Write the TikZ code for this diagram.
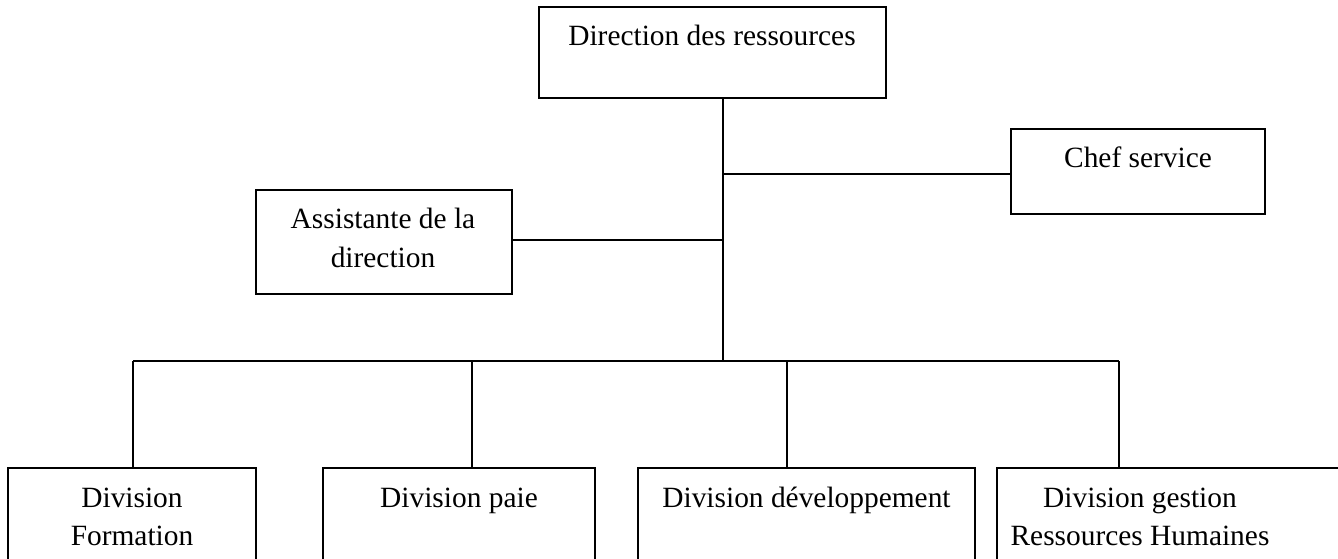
\documentclass[tikz,border=0pt]{standalone}
\usepackage{fontspec}
\setmainfont{Liberation Serif}
\begin{document}
\begin{tikzpicture}[x=1pt,y=-1pt,
  box/.style={draw, line width=1.6pt, rectangle, inner sep=0pt, fill=none},
  lbl/.style={anchor=base, inner sep=0pt, font=\fontsize{29.4}{38}\selectfont},
  conn/.style={line width=1.4pt}]
\clip (0,0) rectangle (1338,559);
\useasboundingbox (0,0) rectangle (1338,559);
% boxes
\node[box, minimum width=347pt, minimum height=91pt] (top) at (712.5,52.5) {};
\node[box, minimum width=254pt, minimum height=85pt] (chef) at (1138,171.5) {};
\node[box, minimum width=256pt, minimum height=104pt] (assist) at (384,242) {};
\node[box, minimum width=248pt, minimum height=112pt] (form) at (132,524) {};
\node[box, minimum width=272pt, minimum height=112pt] (paie) at (459,524) {};
\node[box, minimum width=337pt, minimum height=112pt] (dev) at (806.5,524) {};
\node[box, minimum width=353pt, minimum height=112pt] (grh) at (1173.5,524) {};
% labels
\node[lbl] (ttop) at (712,46) {Direction des ressources};
\node[lbl] (tchef) at (1138,167) {Chef service};
\node[lbl] (tassist1) at (383,228) {Assistante de la};
\node[lbl] (tassist2) at (383,267) {direction};
\node[lbl] (tform1) at (132,507) {Division};
\node[lbl] (tform2) at (132,545) {Formation};
\node[lbl] (tpaie) at (459,507) {Division paie};
\node[lbl] (tdev) at (806.5,507) {Division développement};
\node[lbl] (tgrh1) at (1140,507) {Division gestion};
\node[lbl] (tgrh2) at (1140,545) {Ressources Humaines};
% junctions
\coordinate (jchef) at (723,174);
\coordinate (jassist) at (723,240);
\coordinate (jbus) at (723,361);
\coordinate (b1) at (133,361);
\coordinate (b2) at (472,361);
\coordinate (b3) at (787,361);
\coordinate (b4) at (1119,361);
% connectors
\draw[conn] (jbus |- top.south) -- (jbus);
\draw[conn] (jchef) -- (chef.west |- jchef);
\draw[conn] (assist.east |- jassist) -- (jassist);
\draw[conn] (b1) -- (b4);
\draw[conn] (b1) -- (b1 |- form.north);
\draw[conn] (b2) -- (b2 |- paie.north);
\draw[conn] (b3) -- (b3 |- dev.north);
\draw[conn] (b4) -- (b4 |- grh.north);
\end{tikzpicture}
\end{document}
